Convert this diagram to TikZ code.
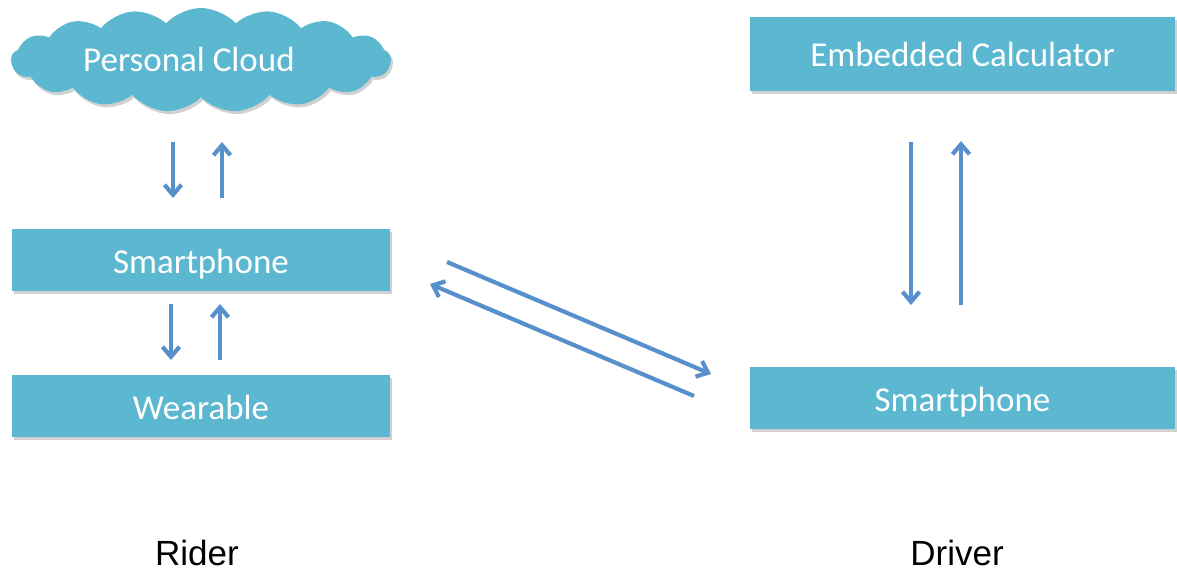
\documentclass[tikz,border=0pt]{standalone}
\usepackage{fontspec}
\setmainfont{Carlito}
\newfontfamily\labfont{Liberation Sans}
\usetikzlibrary{arrows.meta,shapes.symbols,shadows}
\definecolor{boxfill}{RGB}{91,184,208}
\definecolor{arrcol}{RGB}{88,144,203}
\begin{document}
\begin{tikzpicture}[x=1pt,y=-1pt,
  shad/.style={drop shadow={shadow xshift=2pt,shadow yshift=-3pt,opacity=0.3,fill=black!60}},
  box/.style={rectangle,fill=boxfill,draw=none,text=white,inner sep=0pt,
    font=\fontsize{35}{40}\selectfont,shad},
  rbox/.style={box,text height=26pt,text depth=0pt},
  arr/.style={draw=arrcol,line width=4.2pt,-{Straight Barb[length=10pt,width=17pt,line width=4.2pt]}},
  lab/.style={font=\labfont\fontsize{35}{40}\selectfont,text=black}]
\useasboundingbox (0,0) rectangle (1177,572);
\node[box,cloud,cloud puffs=17,cloud puff arc=95,aspect=3.7,minimum width=380pt,minimum height=104pt,text height=24pt,text depth=0pt] (cloud) at (201,60) {\hspace*{-24pt}Personal Cloud};
\node[rbox,minimum width=425pt,minimum height=74pt] (calc) at (962.5,54) {Embedded Calculator};
\node[rbox,minimum width=378pt,minimum height=62pt] (rphone) at (201,260) {Smartphone};
\node[rbox,minimum width=378pt,minimum height=62pt] (wear) at (201,406) {Wearable};
\node[rbox,minimum width=425pt,minimum height=62pt] (dphone) at (962.5,398) {Smartphone};
\node[lab] (rider) at (197,553) {Rider};
\node[lab] (driver) at (957,553) {Driver};
% coordinates
\coordinate (a1s) at (173,142); \coordinate (a1e) at (173,198);
\coordinate (a2s) at (222,198); \coordinate (a2e) at (222,142);
\coordinate (b1s) at (171,304); \coordinate (b1e) at (171,360);
\coordinate (b2s) at (220,360); \coordinate (b2e) at (220,304);
\coordinate (c1s) at (911,142); \coordinate (c1e) at (911,305);
\coordinate (c2s) at (961,305); \coordinate (c2e) at (961,141);
\coordinate (d1s) at (447,262); \coordinate (d1e) at (711,374);
\coordinate (d2s) at (694,396); \coordinate (d2e) at (430,284);
\draw[arr] (a1s) -- (a1e);
\draw[arr] (a2s) -- (a2e);
\draw[arr] (b1s) -- (b1e);
\draw[arr] (b2s) -- (b2e);
\draw[arr] (c1s) -- (c1e);
\draw[arr] (c2s) -- (c2e);
\draw[arr] (d1s) -- (d1e);
\draw[arr] (d2s) -- (d2e);
\end{tikzpicture}
\end{document}
